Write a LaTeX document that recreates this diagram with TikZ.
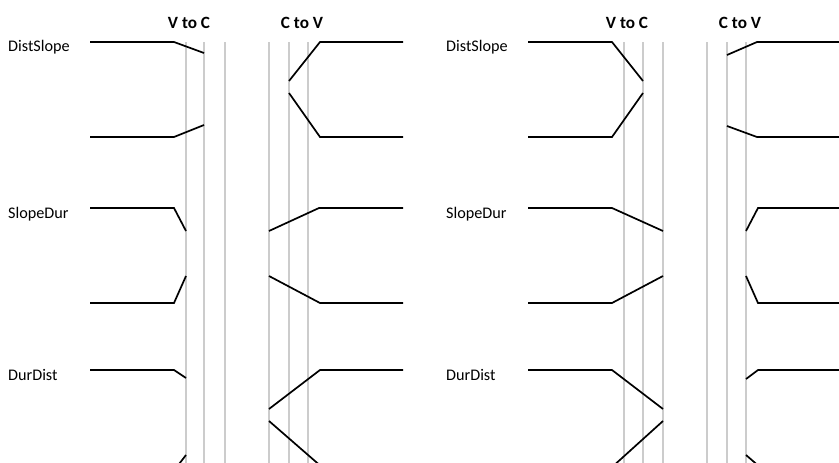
\documentclass[tikz,border=0pt]{standalone}
\usepackage{fontspec}
\setmainfont{Carlito}
\begin{document}
\begin{tikzpicture}[x=1pt,y=-1pt,
  guide/.style={draw=black!20, line width=1.3pt},
  trace/.style={draw=black, line width=1.7pt, line join=miter},
  lab/.style={anchor=base west, inner sep=0pt, font=\fontsize{16.2}{18}\selectfont},
  head/.style={anchor=base, inner sep=0pt, font=\bfseries\fontsize{17.2}{19}\selectfont}]
\useasboundingbox (0,0) rectangle (839,463);
\clip (0,0) rectangle (839,463);
% ---------- left panel ----------
\node[head] (hvc1) at (189,28) {V to C};
\node[head] (hcv1) at (302,28) {C to V};
\node[lab] (ds1) at (8,51) {DistSlope};
\node[lab] (sd1) at (8,218) {SlopeDur};
\node[lab] (dd1) at (8,380) {DurDist};
\foreach \gx in {186,204,225,269,289,308}
  \draw[guide] (\gx,42) -- (\gx,470);
% DistSlope
\draw[trace] (90,42) -- (174,42) -- (204,53);
\draw[trace] (90,137) -- (174,137) -- (204,125);
\draw[trace] (289,81) -- (320,42) -- (403,42);
\draw[trace] (289,93) -- (320,137) -- (403,137);
% SlopeDur
\draw[trace] (90,208) -- (174,208) -- (186,231);
\draw[trace] (90,303) -- (174,303) -- (186,276);
\draw[trace] (269,231) -- (319,208) -- (403,208);
\draw[trace] (269,276) -- (320,303) -- (403,303);
% DurDist
\draw[trace] (90,370) -- (174,370) -- (186,378);
\draw[trace] (186,455) -- (176,468) -- (90,468);
\draw[trace] (269,409) -- (320,370) -- (403,370);
\draw[trace] (269,421) -- (323,468) -- (403,468);
% ---------- right panel ----------
\begin{scope}[xshift=438pt]
\node[head] (hvc2) at (189,28) {V to C};
\node[head] (hcv2) at (302,28) {C to V};
\node[lab] (ds2) at (8,51) {DistSlope};
\node[lab] (sd2) at (8,218) {SlopeDur};
\node[lab] (dd2) at (8,380) {DurDist};
\foreach \gx in {186,205,225,269,289,308}
  \draw[guide] (\gx,42) -- (\gx,470);
% DistSlope
\draw[trace] (90,42) -- (174,42) -- (205,81);
\draw[trace] (90,137) -- (174,137) -- (205,93);
\draw[trace] (289,55) -- (319,42) -- (403,42);
\draw[trace] (289,126) -- (319,137) -- (403,137);
% SlopeDur
\draw[trace] (90,208) -- (174,208) -- (225,231);
\draw[trace] (90,303) -- (174,303) -- (225,276);
\draw[trace] (308,231) -- (320,208) -- (403,208);
\draw[trace] (308,276) -- (320,303) -- (403,303);
% DurDist
\draw[trace] (90,370) -- (174,370) -- (225,409);
\draw[trace] (225,421) -- (173,468) -- (90,468);
\draw[trace] (308,379) -- (320,370) -- (403,370);
\draw[trace] (308,455) -- (323,468) -- (403,468);
\end{scope}
\end{tikzpicture}
\end{document}
